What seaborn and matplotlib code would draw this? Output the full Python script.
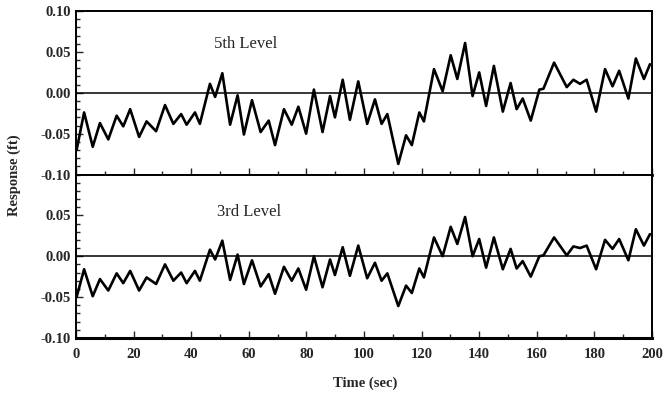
import numpy as np
import pandas as pd
import seaborn as sns
import matplotlib
matplotlib.use("Agg")
import matplotlib.pyplot as plt
from matplotlib.ticker import MultipleLocator

# peaks / troughs
t_5th = [0.2, 2.8, 5.8, 8.3, 11.2, 14.1, 16.4, 18.8, 21.9, 24.5, 27.8, 30.9, 33.8, 36.5,
         38.4, 41.3, 43.0, 46.5, 48.3, 50.8, 53.5, 56.1, 58.3, 61.1, 64.1, 66.9, 69.1, 72.2,
         74.9, 77.2, 79.9, 82.6, 85.6, 88.2, 89.9, 92.6, 95.1, 98.0, 101.1, 103.8, 106.1,
         108.1, 111.9, 114.6, 116.6, 119.2, 120.8, 124.3, 127.3, 130.1, 132.4, 135.1, 137.7,
         140.0, 142.4, 145.1, 148.2, 150.9, 153.0, 155.1, 157.9, 160.9, 162.3, 166.0, 170.4,
         172.7, 175.0, 177.3, 180.6, 183.7, 186.3, 188.6, 191.8, 194.4, 197.2, 199.3]
r_5th = [-0.070, -0.024, -0.066, -0.037, -0.057, -0.028, -0.041, -0.020, -0.054, -0.035,
         -0.047, -0.015, -0.038, -0.026, -0.039, -0.024, -0.038, 0.011, -0.005, 0.024,
         -0.039, -0.003, -0.051, -0.009, -0.048, -0.034, -0.064, -0.020, -0.039, -0.017,
         -0.050, 0.004, -0.048, -0.004, -0.030, 0.016, -0.033, 0.014, -0.038, -0.008,
         -0.038, -0.026, -0.087, -0.052, -0.064, -0.024, -0.035, 0.029, 0.002, 0.046,
         0.017, 0.061, -0.004, 0.025, -0.016, 0.033, -0.023, 0.012, -0.020, -0.007,
         -0.034, 0.004, 0.005, 0.037, 0.007, 0.016, 0.011, 0.016, -0.023, 0.029, 0.008,
         0.027, -0.007, 0.042, 0.017, 0.035]

t_3rd = t_5th
r_3rd = [-0.050, -0.016, -0.049, -0.028, -0.042, -0.021, -0.033, -0.018, -0.042, -0.026,
         -0.034, -0.010, -0.030, -0.020, -0.033, -0.018, -0.030, 0.008, -0.004, 0.019,
         -0.029, 0.002, -0.034, -0.005, -0.037, -0.022, -0.046, -0.013, -0.030, -0.015,
         -0.041, 0.000, -0.038, -0.004, -0.023, 0.011, -0.024, 0.013, -0.027, -0.008,
         -0.030, -0.021, -0.061, -0.036, -0.045, -0.015, -0.026, 0.023, 0.000, 0.036,
         0.015, 0.048, 0.000, 0.021, -0.014, 0.023, -0.016, 0.009, -0.015, -0.006,
         -0.025, 0.000, 0.001, 0.023, 0.001, 0.012, 0.010, 0.013, -0.016, 0.020, 0.009,
         0.021, -0.005, 0.033, 0.013, 0.027]

panels = [("5th Level", t_5th, r_5th, (48, 0.060)),
          ("3rd Level", t_3rd, r_3rd, (49, 0.054))]

sns.set_style("ticks")
plt.rcParams['font.family'] = ['Liberation Serif', 'DejaVu Serif']

fig = plt.figure(figsize=(6.67, 3.98), dpi=100)
gs = fig.add_gridspec(2, 1, left=0.114, right=0.9775, bottom=0.151, top=0.972, hspace=0)
axes = [fig.add_subplot(gs[0]), fig.add_subplot(gs[1])]

for i, (name, t, r, pos) in enumerate(panels):
    ax = axes[i]
    df = pd.DataFrame({"time": t, "resp": r})
    ax.axhline(0, color="black", lw=1.1, zorder=1)
    sns.lineplot(data=df, x="time", y="resp", ax=ax, color="black", lw=1.9,
                 sort=False, solid_joinstyle="round", zorder=2)
    ax.set_xlim(0, 200)
    ax.set_ylim(-0.10, 0.10)
    ax.yaxis.set_minor_locator(MultipleLocator(0.01))
    ax.xaxis.set_minor_locator(MultipleLocator(10))
    ax.tick_params(which="both", direction="in", width=1.0, labelsize=10.5)
    ax.tick_params(which="major", length=5)
    ax.tick_params(which="minor", length=3)
    ax.tick_params(axis="x", pad=7)
    for s in ax.spines.values():
        s.set_linewidth(1.4)
        s.set_color("black")
    ax.set_xlabel("")
    ax.set_ylabel("")
    ax.text(pos[0], pos[1], name, fontsize=12, va="center", ha="left")

axes[0].set_xticks(range(0, 201, 20))
axes[0].tick_params(axis="x", labelbottom=False)
axes[0].set_yticks([-0.10, -0.05, 0.0, 0.05, 0.10])
axes[0].set_yticklabels(["-0.10", "-0.05", "0.00", "0.05", "0.10"], fontweight="bold")
axes[1].set_yticks([-0.10, -0.05, 0.0, 0.05])
axes[1].set_yticklabels(["-0.10", "-0.05", "0.00", "0.05"], fontweight="bold")
axes[1].set_xticks(range(0, 201, 20))
axes[1].set_xticklabels([str(v) for v in range(0, 201, 20)], fontweight="bold")
axes[1].spines["bottom"].set_linewidth(2.2)
axes[0].spines["bottom"].set_linewidth(2.0)

fig.text(0.022, 0.56, "Response (ft)", rotation=90, va="center", ha="center",
         fontsize=10.5, fontweight="bold")
fig.text(0.547, 0.038, "Time (sec)", va="center", ha="center", fontsize=10.5, fontweight="bold")

fig.savefig("out.png", dpi=100)
